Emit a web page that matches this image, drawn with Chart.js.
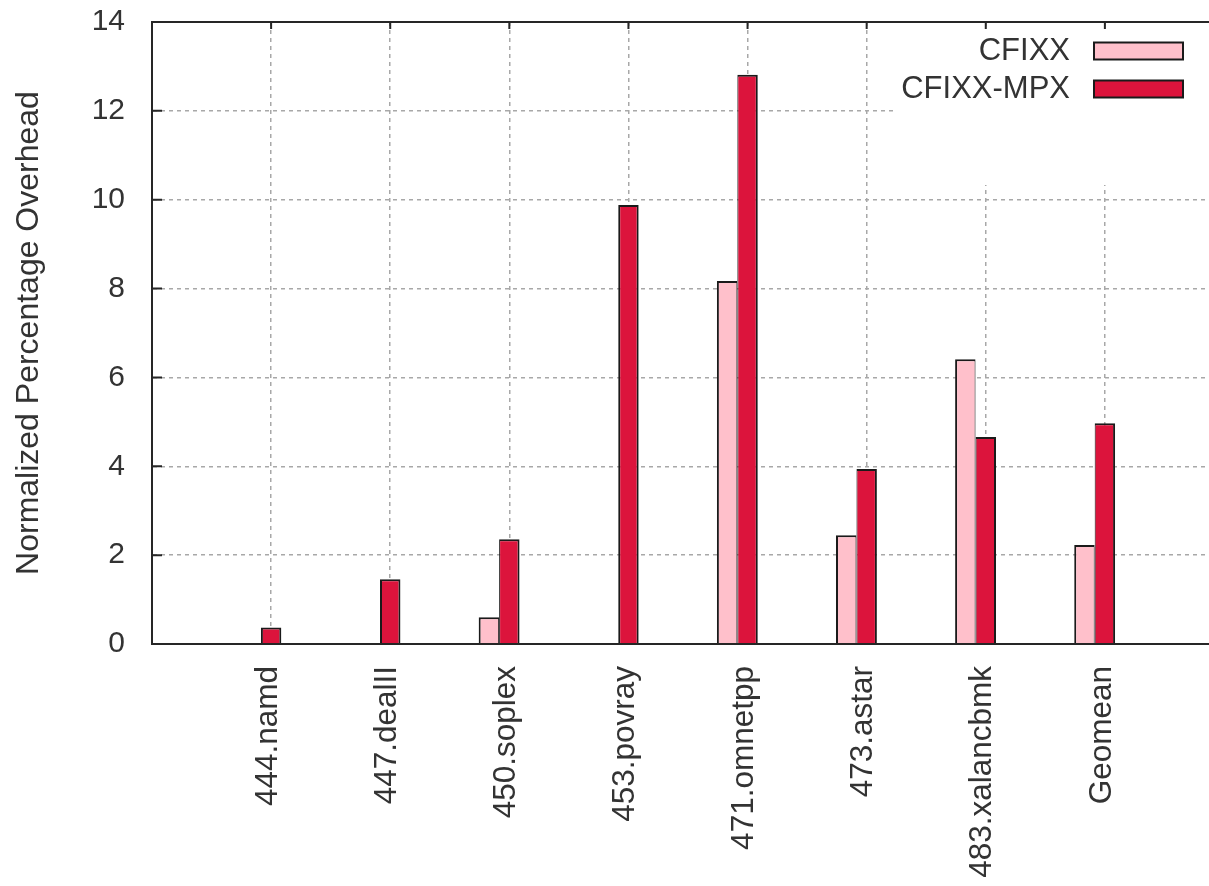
<!DOCTYPE html>
<html>
<head>
<meta charset="utf-8">
<script src="https://cdn.jsdelivr.net/npm/chart.js@4.4.1/dist/chart.umd.min.js"></script>
<style>
  html, body { margin: 0; padding: 0; overflow: hidden; background: #fff; width: 1209px; height: 886px; }
  canvas { display: block; }
</style>
</head>
<body>
<canvas id="c" width="1224" height="886"></canvas>
<script>
// Benchmarks and measured overheads (percent, normalized)
const benchmarks = ['444.namd', '447.dealII', '450.soplex', '453.povray', '471.omnetpp', '473.astar', '483.xalancbmk', 'Geomean'];
const cfixx    = [0, 0, 0.6, 0, 8.17, 2.45, 6.41, 2.23];
const cfixxMpx = [0.37, 1.46, 2.36, 9.88, 12.81, 3.94, 4.66, 4.97];
const seriesNames = ['CFIXX', 'CFIXX-MPX'];
const yTicks = [0, 2, 4, 6, 8, 10, 12, 14];
const yTitle = 'Normalized Percentage Overhead';

const FONT = "'Liberation Sans', Arial, sans-serif";
const TEXT = '#333333';
const FRAME = '#262626';
const seriesColors = ['#FFC0CB', '#DC143C'];

// an empty slot before the first and after the last benchmark
const axisLabels = ['', ...benchmarks, ''];
const pad = arr => [null, ...arr, null];

// shared edge between the two bars of a group is drawn once
const cfixxBorder = ctx => ({ top: 2, left: 2, bottom: 0, right: 1 });
const mpxBorder = ctx => {
  const v = cfixx[ctx.dataIndex - 1];
  return { top: 2, right: 2, bottom: 0, left: v ? 1 : 2 };
};

const framePlugin = {
  id: 'frame',
  afterDatasetsDraw(chart) {
    const { ctx, chartArea: a } = chart;
    const R = a.right;
    // opaque key box
    ctx.save();
    ctx.fillStyle = '#ffffff';
    ctx.fillRect(R - 331, a.top + 6, 331, 157);
    ctx.font = `31px ${FONT}`;
    ctx.textAlign = 'right';
    ctx.textBaseline = 'middle';
    chart.data.datasets.slice(0, 2).forEach((ds, i) => {
      const cy = a.top + 29 + i * 38;
      ctx.fillStyle = TEXT;
      ctx.fillText(ds.label, R - 154, cy);
      ctx.fillStyle = ds.backgroundColor;
      ctx.fillRect(R - 130, cy - 8.5, 89, 17);
      ctx.strokeStyle = '#1a1a1a';
      ctx.lineWidth = 2;
      ctx.strokeRect(R - 130, cy - 8.5, 89, 17);
    });
    ctx.restore();
  },
  afterDraw(chart) {
    const { ctx, chartArea: a, scales } = chart;
    ctx.save();
    ctx.strokeStyle = FRAME;
    ctx.lineWidth = 2;
    ctx.strokeRect(a.left, a.top, a.right - a.left, a.bottom - a.top);
    // inward tick marks on the left and right borders
    ctx.beginPath();
    yTicks.forEach(v => {
      const y = scales.y.getPixelForValue(v);
      ctx.moveTo(a.left, y); ctx.lineTo(a.left + 10, y);
      ctx.moveTo(a.right, y); ctx.lineTo(a.right - 10, y);
    });
    // mirrored category tick marks on the top border
    benchmarks.forEach((b, i) => {
      const x = scales.x.getPixelForValue(i + 1);
      ctx.moveTo(x, a.top); ctx.lineTo(x, a.top + 7);
    });
    ctx.stroke();
    ctx.restore();
  }
};

new Chart(document.getElementById('c'), {
  type: 'bar',
  data: {
    labels: axisLabels,
    datasets: [
      { label: seriesNames[0], data: pad(cfixx), backgroundColor: seriesColors[0],
        borderColor: '#1a1a1a', borderWidth: cfixxBorder, borderSkipped: 'start' },
      { label: seriesNames[1], data: pad(cfixxMpx), backgroundColor: seriesColors[1],
        borderColor: '#1a1a1a', borderWidth: mpxBorder, borderSkipped: 'start' },
      // empty third slot keeps the MPX bar centred on the tick
      { label: '', data: axisLabels.map(() => null), backgroundColor: 'rgba(0,0,0,0)' }
    ]
  },
  options: {
    responsive: false,
    animation: false,
    events: [],
    layout: { padding: { top: 22, left: 0, right: 0, bottom: 0 } },
    datasets: { bar: { categoryPercentage: 0.515, barPercentage: 1.0, grouped: true } },
    plugins: { legend: { display: false }, tooltip: { enabled: false } },
    scales: {
      x: {
        type: 'category',
        offset: false,
        grid: { offset: false, color: '#a8a8a8', lineWidth: 1.5, drawTicks: false },
        border: { display: true, color: FRAME, width: 2, dash: [4, 4] },
        ticks: {
          autoSkip: false, minRotation: 90, maxRotation: 90, padding: 22, labelOffset: -3,
          color: TEXT, font: { family: FONT, size: 31.5 }
        },
        afterFit: s => { s.height = 242; s.paddingLeft = 0; s.paddingRight = 0; }
      },
      y: {
        min: 0, max: 14,
        afterBuildTicks: s => { s.ticks = yTicks.map(v => ({ value: v })); },
        grid: { color: '#a8a8a8', lineWidth: 1.5, drawTicks: false },
        border: { display: true, color: FRAME, width: 2, dash: [4, 4] },
        ticks: { padding: 27, color: TEXT, font: { family: FONT, size: 30 } },
        title: { display: true, text: yTitle, color: TEXT, padding: { top: 10, bottom: 0 },
                 font: { family: FONT, size: 32 } },
        afterFit: s => { s.width = 152; s.paddingTop = 0; s.paddingBottom = 0; }
      }
    }
  },
  plugins: [framePlugin]
});
</script>
</body>
</html>
